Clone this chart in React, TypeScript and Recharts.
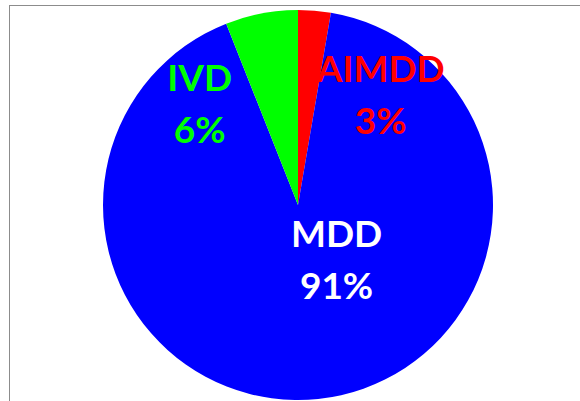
import { PieChart, Pie, Cell } from 'recharts'

const categories = ['AIMDD', 'MDD', 'IVD']
const shares = [2.7, 91.3, 6.0]
const percentLabels = ['3%', '91%', '6%']
const sliceColors = ['#ff0000', '#0000ff', '#00ff00']
const labelColors = ['#ff0000', '#ffffff', '#00ff00']

const data = categories.map((name, i) => ({
  name,
  value: shares[i],
  pct: percentLabels[i],
}))

// label placement (angle in degrees, distance as fraction of the radius), moved by hand like in the original
const labelSpots: Record<string, { angle: number; dist: number }> = {
  AIMDD: { angle: 52.7, dist: 0.7 },
  MDD: { angle: -55.6, dist: 0.35 },
  IVD: { angle: 134.4, dist: 0.72 },
}

const RADIAN = Math.PI / 180

function renderLabel(props: any) {
  const { cx, cy, outerRadius, index } = props
  const name = categories[index]
  const spot = labelSpots[name]
  const r = outerRadius * spot.dist
  const x = cx + r * Math.cos(spot.angle * RADIAN)
  const y = cy - r * Math.sin(spot.angle * RADIAN)
  return (
    <text
      x={x}
      y={y}
      fill={labelColors[index]}
      textAnchor="middle"
      fontFamily="Lato, 'Liberation Sans', sans-serif"
      fontWeight={700}
      fontSize={37}
    >
      <tspan x={x} dy={-14}>{name}</tspan>
      <tspan x={x} dy={52}>{percentLabels[index]}</tspan>
    </text>
  )
}

export default function App() {
  return (
    <div style={{ position: 'fixed', left: 0, top: 0, width: 580, height: 401, overflow: 'hidden', background: '#fff' }}>
      <div
        style={{
          position: 'absolute',
          left: 9,
          top: 5,
          width: 620,
          height: 440,
          border: '1px solid #8c8c8c',
        }}
      />
      <div style={{ position: 'absolute', left: 0, top: 0 }}>
        <PieChart width={580} height={401} margin={{ top: 0, right: 0, bottom: 0, left: 0 }}>
          <Pie
            data={data}
            dataKey="value"
            nameKey="name"
            cx={298}
            cy={205}
            outerRadius={195}
            startAngle={90}
            endAngle={-270}
            stroke="none"
            labelLine={false}
            label={renderLabel}
            isAnimationActive={false}
          >
            {data.map((entry, i) => (
              <Cell key={entry.name} fill={sliceColors[i]} />
            ))}
          </Pie>
        </PieChart>
      </div>
    </div>
  )
}
